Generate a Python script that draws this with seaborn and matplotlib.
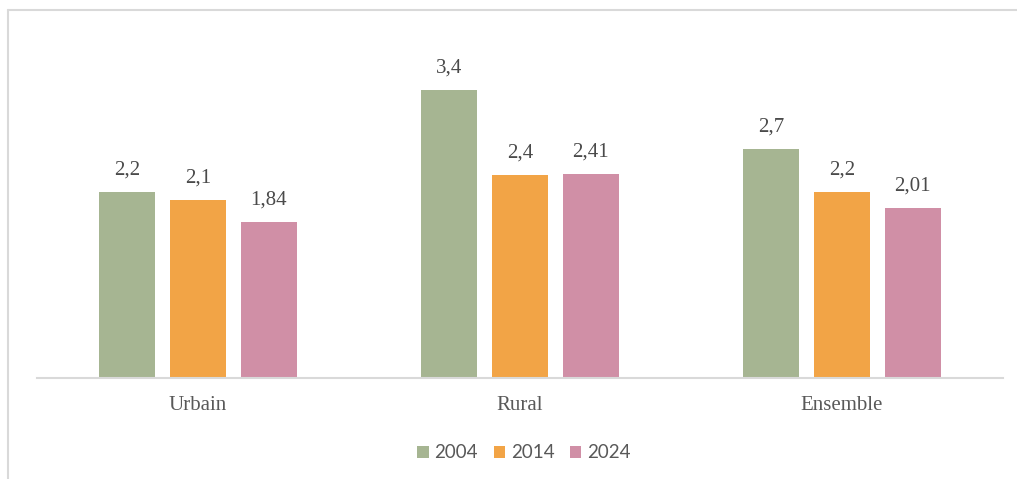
import matplotlib.pyplot as plt
import pandas as pd
import seaborn as sns
from matplotlib.lines import Line2D

categories = ["Urbain", "Rural", "Ensemble"]
years = ["2004", "2014", "2024"]
values_2004 = [2.2, 3.4, 2.7]
values_2014 = [2.1, 2.4, 2.2]
values_2024 = [1.84, 2.41, 2.01]
colors = ["#A6B592", "#F2A446", "#D08FA6"]

df = pd.DataFrame({
    "zone": categories * 3,
    "year": [y for y in years for _ in categories],
    "value": values_2004 + values_2014 + values_2024,
})

sns.set_theme(style="white")
text_color = "#595959"

fig = plt.figure(figsize=(10.17, 4.79), dpi=100)
ax = fig.add_axes([37 / 1017, 101 / 479, 966 / 1017, 339 / 479])

sns.barplot(data=df, x="zone", y="value", hue="year", palette=colors,
            width=0.66, gap=0.21, saturation=1, linewidth=0, ax=ax, legend=True)

ax.set_ylim(0, 4)
ax.set_xlim(-0.5, 2.5)
for container in ax.containers:
    labels = [f"{v:g}".replace(".", ",") for v in container.datavalues]
    ax.bar_label(container, labels=labels, padding=9, fontsize=15,
                 color="#4A4A4A", family="Liberation Serif")

ax.set_xlabel("")
ax.set_ylabel("")
ax.set_yticks([])
for side in ["top", "right", "left"]:
    ax.spines[side].set_visible(False)
ax.spines["bottom"].set_color("#D9D9D9")
ax.spines["bottom"].set_linewidth(1.5)
ax.tick_params(axis="x", length=0, pad=13)
for lbl in ax.get_xticklabels():
    lbl.set_family("Liberation Serif")
    lbl.set_fontsize(15)
    lbl.set_color(text_color)

handles, labs = ax.get_legend_handles_labels()
ax.legend_.remove()
fig.legend(handles, labs, loc="center", bbox_to_anchor=(524 / 1017, 1 - 453 / 479),
           ncol=3, frameon=False, prop={"family": "Lato", "size": 13.5},
           labelcolor=text_color, handlelength=0.6, handleheight=0.6,
           handletextpad=0.3, columnspacing=0.85)

# outer chart frame
fig.add_artist(Line2D([8 / 1017, 8 / 1017], [0, 1 - 10 / 479], color="#D9D9D9", lw=1.5))
fig.add_artist(Line2D([8 / 1017, 1], [1 - 10 / 479, 1 - 10 / 479], color="#D9D9D9", lw=1.5))

fig.savefig("out.png", dpi=100)
